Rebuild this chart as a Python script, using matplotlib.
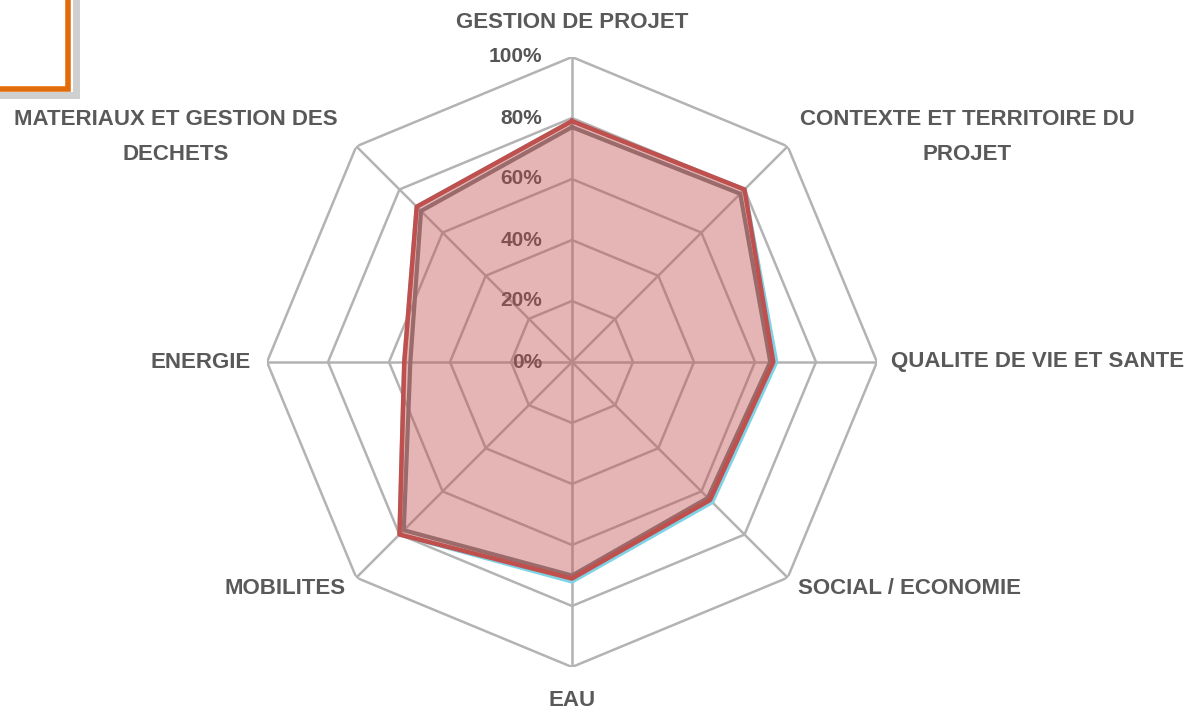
import numpy as np
import matplotlib
matplotlib.use("Agg")
import matplotlib.pyplot as plt
from matplotlib.patches import Rectangle
from matplotlib.transforms import offset_copy

categories = [
    "GESTION DE PROJET",
    "CONTEXTE ET TERRITOIRE DU\nPROJET",
    "QUALITE DE VIE ET SANTE",
    "SOCIAL / ECONOMIE",
    "EAU",
    "MOBILITES",
    "ENERGIE",
    "MATERIAUX ET GESTION DES\nDECHETS",
]
serie_bleue = [79, 80, 67, 65, 72, 80, 55, 72]
serie_grise = [77, 78, 65, 63, 70, 78, 53, 70]
serie_rouge = [79, 80, 66, 64, 71, 80, 55, 72]
ticks = [0, 20, 40, 60, 80, 100]
tick_labels = ["0%", "20%", "40%", "60%", "80%", "100%"]

W, H = 1190, 711
cx, cy, R = 572, 362, 305
FONT = ["Liberation Sans", "DejaVu Sans"]

fig = plt.figure(figsize=(W / 100, H / 100), dpi=100)
ax = fig.add_axes([(cx - R) / W, (H - cy - R) / H, 2 * R / W, 2 * R / H], polar=True)
ax.set_theta_zero_location("N")
ax.set_theta_direction(-1)
ax.set_ylim(0, 100)
ax.grid(False)
ax.spines["polar"].set_visible(False)
ax.set_xticks([])
ax.set_yticks([])
ax.patch.set_alpha(0)

n = len(categories)
theta = np.linspace(0, 2 * np.pi, n, endpoint=False)
theta_c = np.append(theta, theta[0])

grid_col = "#b3b3b3"
for t in ticks[1:]:
    ax.plot(theta_c, [t] * (n + 1), color=grid_col, lw=1.8, zorder=1)
for th in theta:
    ax.plot([th, th], [0, 100], color=grid_col, lw=1.8, zorder=1)


def close(v):
    return list(v) + [v[0]]


ax.plot(theta_c, close(serie_bleue), color="#7fd3e6", lw=3, zorder=2)
ax.plot(theta_c, close(serie_grise), color="#7f7f7f", lw=3, zorder=3)
ax.fill(theta_c, close(serie_rouge), color="#c0504d", alpha=0.42, lw=0, zorder=4)
ax.plot(theta_c, close(serie_rouge), color="#c0504d", lw=3.2, zorder=5)

# tick labels left of the vertical axis (under the fill, as in the original)
trans = offset_copy(ax.transData, fig=fig, x=-30, y=0, units="dots")
for t, lab in zip(ticks, tick_labels):
    ax.text(0, t, lab, transform=trans, ha="right", va="center",
            fontsize=15, fontweight="bold", color="#555555", family=FONT, zorder=1.5)

# category labels (pixel positions)
lab_pos = [
    (572, 22, "center"),
    (967, 137, "center"),
    (891, 362, "left"),
    (798, 588, "left"),
    (572, 700, "center"),
    (346, 588, "right"),
    (251, 362, "right"),
    (176, 137, "center"),
]
for (x, y, ha), lab in zip(lab_pos, categories):
    fig.text(x / W, 1 - y / H, lab, ha=ha, va="center", multialignment="center",
             fontsize=16, fontweight="bold", color="#595959", family=FONT,
             linespacing=1.9)

# orange box in the corner
fig.patches.append(Rectangle((-6 / W, 1 - 95 / H), 82 / W, 110 / H,
                             transform=fig.transFigure, facecolor="none",
                             edgecolor="#a0a0a0", lw=5, alpha=0.5))
fig.patches.append(Rectangle((-10 / W, 1 - 89 / H), 78 / W, 100 / H,
                             transform=fig.transFigure, facecolor="white",
                             edgecolor="#e36c0a", lw=4))

fig.savefig("out.png", dpi=100)
